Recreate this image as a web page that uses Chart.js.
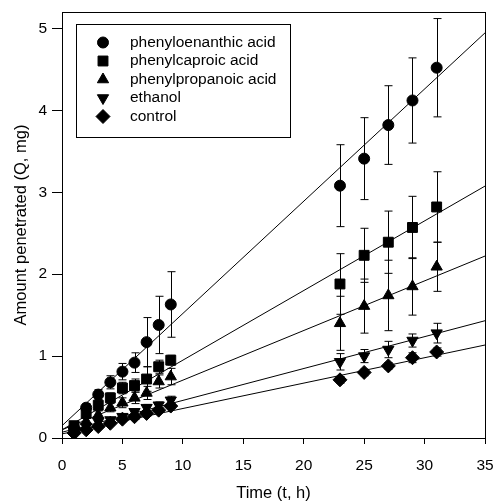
<!DOCTYPE html>
<html>
<head>
<meta charset="utf-8">
<script src="https://cdn.jsdelivr.net/npm/chart.js@4.4.0/dist/chart.umd.min.js"></script>
<style>
  html, body { margin: 0; padding: 0; background: #fff; }
  #wrap { width: 495px; height: 504px; }
</style>
</head>
<body>
<div id="wrap"><canvas id="permeationChart"></canvas></div>
<script>
// sampling times (h)
const times = [1, 2, 3, 4, 5, 6, 7, 8, 9, 23, 25, 27, 29, 31];

const seriesNames = ["phenyloenanthic acid", "phenylcaproic acid", "phenylpropanoic acid", "ethanol", "control"];

// amount penetrated (mg) and error bars
const enanthicQ = [0.12, 0.37, 0.53, 0.68, 0.81, 0.92, 1.17, 1.38, 1.63, 3.08, 3.41, 3.82, 4.12, 4.52];
const enanthicErr = [0.03, 0.05, 0.06, 0.08, 0.1, 0.12, 0.3, 0.35, 0.4, 0.5, 0.5, 0.48, 0.52, 0.6];
const caproicQ = [0.15, 0.3, 0.4, 0.49, 0.61, 0.64, 0.72, 0.87, 0.95, 1.88, 2.23, 2.39, 2.57, 2.82];
const caproicErr = [0.03, 0.05, 0.06, 0.06, 0.07, 0.08, 0.15, 0.08, 0.06, 0.37, 0.33, 0.38, 0.38, 0.43];
const propanoicQ = [0.1, 0.2, 0.28, 0.37, 0.43, 0.49, 0.55, 0.69, 0.75, 1.4, 1.61, 1.74, 1.85, 2.09];
const propanoicErr = [0.03, 0.04, 0.05, 0.05, 0.06, 0.07, 0.08, 0.08, 0.1, 0.33, 0.33, 0.43, 0.35, 0.3];
const ethanolQ = [0.08, 0.14, 0.2, 0.22, 0.26, 0.32, 0.37, 0.4, 0.46, 0.93, 1.0, 1.08, 1.19, 1.28];
const ethanolErr = [0.02, 0.02, 0.03, 0.03, 0.03, 0.03, 0.04, 0.04, 0.05, 0.1, 0.08, 0.1, 0.08, 0.12];
const controlQ = [0.06, 0.1, 0.14, 0.18, 0.23, 0.26, 0.3, 0.34, 0.39, 0.71, 0.8, 0.88, 0.98, 1.05];
const controlErr = [0.02, 0.02, 0.02, 0.02, 0.03, 0.03, 0.03, 0.03, 0.03, 0.04, 0.04, 0.04, 0.06, 0.05];

// linear fits: Q = intercept + slope * t
const fitSlopes = [0.137, 0.085, 0.0606, 0.0389, 0.031];
const fitIntercepts = [0.15, 0.1, 0.1, 0.07, 0.05];
const fitRange = [0, 35];

const xTicks = [0, 5, 10, 15, 20, 25, 30, 35];
const yTicks = [0, 1, 2, 3, 4, 5];

const values = [enanthicQ, caproicQ, propanoicQ, ethanolQ, controlQ];
const errors = [enanthicErr, caproicErr, propanoicErr, ethanolErr, controlErr];
const markers = [
  { pointStyle: "circle", radius: 5.5, rotation: 0 },
  { pointStyle: "rect", radius: 7, rotation: 0 },
  { pointStyle: "triangle", radius: 6.5, rotation: 0 },
  { pointStyle: "triangle", radius: 6.5, rotation: 180 },
  { pointStyle: "rectRot", radius: 7, rotation: 0 },
];

const FONT = "'Liberation Sans', Arial, sans-serif";

const pointSets = seriesNames.map((name, i) => ({
  label: name,
  data: times.map((t, j) => ({ x: t, y: values[i][j] })),
  errors: errors[i],
  showLine: false,
  pointStyle: markers[i].pointStyle,
  pointRadius: markers[i].radius,
  pointRotation: markers[i].rotation,
  pointBackgroundColor: "#000",
  pointBorderColor: "#000",
  pointBorderWidth: 1,
  order: 1,
}));

const fitSets = seriesNames.map((name, i) => ({
  label: name + " fit",
  data: fitRange.map((t) => ({ x: t, y: fitIntercepts[i] + fitSlopes[i] * t })),
  showLine: true,
  borderColor: "#000",
  borderWidth: 1,
  pointRadius: 0,
  order: 2,
}));

const errorBars = {
  id: "errorBars",
  beforeDatasetsDraw(chart) {
    const { ctx, scales: { x, y } } = chart;
    ctx.save();
    ctx.strokeStyle = "#000";
    ctx.lineWidth = 1;
    chart.data.datasets.forEach((ds) => {
      if (!ds.errors) return;
      ds.data.forEach((pt, j) => {
        const px = Math.round(x.getPixelForValue(pt.x)) + 0.5;
        const top = y.getPixelForValue(pt.y + ds.errors[j]);
        const bot = y.getPixelForValue(pt.y - ds.errors[j]);
        ctx.beginPath();
        ctx.moveTo(px, top);
        ctx.lineTo(px, bot);
        ctx.moveTo(px - 4, top);
        ctx.lineTo(px + 4, top);
        ctx.moveTo(px - 4, bot);
        ctx.lineTo(px + 4, bot);
        ctx.stroke();
      });
    });
    ctx.restore();
  },
};

const frameAndLegend = {
  id: "frameAndLegend",
  afterDraw(chart) {
    const { ctx, chartArea: a } = chart;
    ctx.save();
    ctx.strokeStyle = "#000";
    ctx.lineWidth = 1;
    ctx.strokeRect(Math.round(a.left) + 0.5, Math.round(a.top) + 0.5,
      Math.round(a.right - a.left), Math.round(a.bottom - a.top));

    // legend box
    const box = { left: 76, top: 24, width: 214, height: 113 };
    ctx.fillStyle = "#fff";
    ctx.fillRect(box.left, box.top, box.width, box.height);
    ctx.strokeRect(box.left + 0.5, box.top + 0.5, box.width, box.height);

    ctx.font = "15.5px " + FONT;
    ctx.textBaseline = "middle";
    ctx.textAlign = "left";
    seriesNames.forEach((name, i) => {
      const rowY = 42.5 + i * 18.5;
      ctx.fillStyle = "#000";
      ctx.strokeStyle = "#000";
      Chart.helpers.drawPoint(ctx, {
        pointStyle: markers[i].pointStyle,
        radius: markers[i].radius,
        rotation: markers[i].rotation,
        borderWidth: 1,
      }, 103, rowY);
      ctx.fillText(name, 130, rowY);
    });
    ctx.restore();
  },
};

new Chart(document.getElementById("permeationChart"), {
  type: "scatter",
  data: { datasets: [...pointSets, ...fitSets] },
  options: {
    responsive: true,
    maintainAspectRatio: false,
    animation: false,
    events: [],
    layout: { padding: { top: 12, right: 10, bottom: 0, left: 0 } },
    plugins: {
      legend: { display: false },
      tooltip: { enabled: false },
    },
    scales: {
      x: {
        type: "linear",
        min: 0,
        max: 35,
        afterFit: (scale) => {
          scale.height = 66;
          scale.paddingLeft = 0;
          scale.paddingRight = 0;
        },
        afterBuildTicks: (scale) => { scale.ticks = xTicks.map((v) => ({ value: v })); },
        border: { color: "#000", width: 1 },
        grid: { drawOnChartArea: false, drawTicks: true, tickLength: 6, color: "#000" },
        ticks: { color: "#000", padding: 12, font: { family: FONT, size: 15.5 } },
        title: {
          display: true,
          text: "Time (t, h)",
          color: "#000",
          font: { family: FONT, size: 16.5 },
          padding: { top: 0, bottom: 1 },
        },
      },
      y: {
        type: "linear",
        min: 0,
        max: 5.2,
        afterFit: (scale) => {
          scale.width = 62;
          scale.paddingTop = 0;
          scale.paddingBottom = 0;
        },
        afterBuildTicks: (scale) => { scale.ticks = yTicks.map((v) => ({ value: v })); },
        border: { color: "#000", width: 1 },
        grid: { drawOnChartArea: false, drawTicks: true, tickLength: 10, color: "#000" },
        ticks: { color: "#000", padding: 5, font: { family: FONT, size: 15.5 } },
        title: {
          display: true,
          text: "Amount penetrated (Q, mg)",
          color: "#000",
          font: { family: FONT, size: 16.5 },
          padding: { top: 12, bottom: 0 },
        },
      },
    },
  },
  plugins: [errorBars, frameAndLegend],
});
</script>
</body>
</html>
